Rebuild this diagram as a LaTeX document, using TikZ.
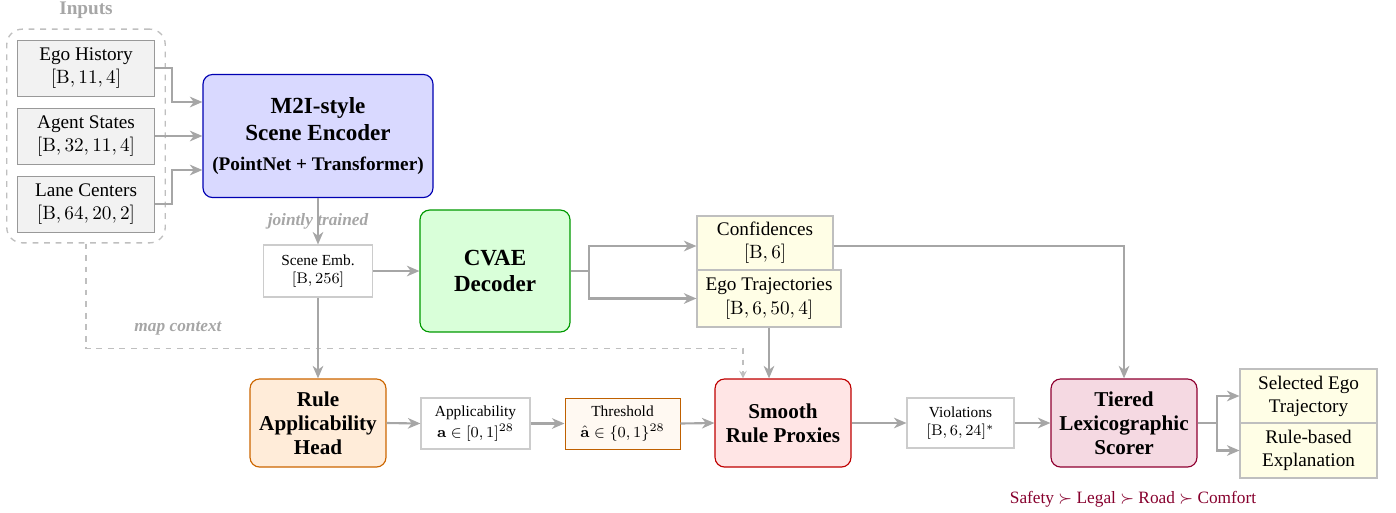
\documentclass[tikz,border=0pt]{standalone}
\usepackage{amsmath,amssymb}
\usepackage[no-math]{fontspec}
\setmainfont{Liberation Serif}
\usepackage{xcolor}
\usepackage{tikz}
\usetikzlibrary{arrows.meta,positioning,calc,fit,backgrounds}

\begin{document}
\begin{tikzpicture}[
    x=0.52pt, y=-0.52pt,
    inbox/.style={draw=black!40, fill=black!5, minimum width=71pt, minimum height=29pt, align=center, inner sep=1pt},
    frame/.style={draw=black!25, dashed, rounded corners=8pt, inner sep=5.5pt, line width=0.7pt},
    block/.style={rounded corners=5pt, align=center, font=\fontsize{11}{12.5}\selectfont\bfseries, line width=0.6pt, inner sep=1pt},
    datbox/.style={draw=black!20, fill=white, align=center, font=\footnotesize, inner sep=1pt, minimum height=26.5pt, line width=0.6pt},
    outbox/.style={draw=black!25, fill=yellow!10, align=center, inner sep=1pt, line width=0.6pt},
    tag/.style={text=black!35, font=\small\bfseries\itshape},
    arrow/.style={-{Stealth[length=6.5pt, width=5.5pt, inset=2pt]}, line width=1.1pt, draw=black!35},
    link/.style={line width=1.1pt, draw=black!35},
    maparrow/.style={-{Stealth[length=4pt, width=4pt, inset=1.5pt]}, dashed, line width=0.8pt, draw=black!25}
]
    \useasboundingbox (0,0) rectangle (1396,512);

    % Inputs
    \node[inbox] (ego) at (86, 68) {Ego History\\$[\mathrm{B}, 11, 4]$};
    \node[inbox] (agent) at (86, 136) {Agent States\\$[\mathrm{B}, 32, 11, 4]$};
    \node[inbox] (lane) at (86, 204) {Lane Centers\\$[\mathrm{B}, 64, 20, 2]$};
    \begin{scope}[on background layer]
        \node[frame, fit=(ego)(agent)(lane)] (inputs) {};
    \end{scope}
    \node[font=\bfseries, text=black!35] (inlabel) at (86, 10) {Inputs};

    % Encoder
    \node[block, draw=blue!70!black, fill=blue!15, minimum width=119.6pt, minimum height=64pt, font=\large\bfseries] (enc) at (318, 136)
        {M2I-style\\Scene Encoder\\[2pt]{\normalsize (PointNet + Transformer)}};

    % Embedding and decoder
    \node[datbox, minimum width=56.7pt, minimum height=27pt] (emb) at (318, 271) {Scene Emb.\\$[\mathrm{B}, 256]$};
    \node[block, draw=green!60!black, fill=green!15, minimum width=78pt, minimum height=63.4pt, font=\large\bfseries] (cvae) at (495, 271) {CVAE\\Decoder};

    % Decoder outputs
    \node[outbox, minimum width=70.7pt, minimum height=28.1pt] (conf) at (765, 243) {Confidences\\$[\mathrm{B}, 6]$};
    \node[outbox, minimum width=74.9pt, minimum height=29.6pt] (traj) at (769, 298.5) {Ego Trajectories\\$[\mathrm{B}, 6, 50, 4]$};

    % Bottom row
    \node[block, draw=orange!80!black, fill=orange!15, minimum width=70.7pt, minimum height=45.8pt] (head) at (318, 423) {Rule\\Applicability\\Head};
    \node[datbox, minimum width=56.7pt] (appl) at (475.5, 423.5) {Applicability\\[1pt]$\mathbf{a} \in [0,1]^{28}$};
    \node[datbox, draw=orange!75!black, fill=orange!5, line width=0.5pt, minimum width=59.8pt] (thr) at (622.5, 423.5) {Threshold\\[1pt]$\hat{\mathbf{a}} \in \{0,1\}^{28}$};
    \node[block, draw=red!75!black, fill=red!10, minimum width=70.7pt, minimum height=45.8pt] (smooth) at (783, 423) {Smooth\\Rule Proxies};
    \node[datbox, minimum width=55.6pt, minimum height=26pt] (viol) at (960.5, 423) {Violations\\$[\mathrm{B}, 6, 24]^{*}$};
    \node[block, draw=purple!75!black, fill=purple!15, minimum width=75.9pt, minimum height=45.8pt] (tiered) at (1124, 423) {Tiered\\Lexicographic\\Scorer};
    \node[font=\small, text=purple!70!black] (order) at (1133, 499) {Safety $\succ$ Legal $\succ$ Road $\succ$ Comfort};

    % Final outputs
    \node[outbox, minimum width=71.2pt, minimum height=28.1pt] (sel) at (1308.5, 396) {Selected Ego\\Trajectory};
    \node[outbox, minimum width=71.2pt, minimum height=28.6pt] (expl) at (1308.5, 450.5) {Rule-based\\Explanation};

    % Edges
    \draw[arrow] (ego.east) -- ++(17,0) |- ($(enc.west)+(0,-34)$);
    \draw[arrow] (agent.east) -- (enc.west);
    \draw[arrow] (lane.east) -- ++(17,0) |- ($(enc.west)+(0,34)$);
    \draw[arrow] (enc.south) -- node[tag] {jointly trained} (emb.north);
    \draw[arrow] (emb.east) -- (cvae.west);
    \draw[link] (cvae.east) -- ++(18,0) coordinate (split);
    \draw[arrow] (split) |- ($(conf.west)+(0,3)$);
    \draw[arrow] (split) |- (traj.west);
    \draw[arrow] ($(conf.east)+(0,3)$) -| (tiered.north);
    \draw[arrow] (traj.south) -- (traj.south |- smooth.north);
    \draw[maparrow] (inputs.south) -- ++(0,105) -| node[tag, above, pos=0.07, yshift=3pt] {map context} ($(smooth.north)+(-40,0)$);
    \draw[arrow] (emb.south) -- (head.north);
    \draw[arrow] (head.east) -- (appl.west);
    \draw[arrow] (appl.east) -- (thr.west);
    \draw[arrow] (thr.east) -- (smooth.west);
    \draw[arrow] (smooth.east) -- (viol.west);
    \draw[arrow] (viol.east) -- (tiered.west);
    \draw[link] (tiered.east) -- ++(19,0) coordinate (fork);
    \draw[arrow] (fork) |- (sel.west);
    \draw[arrow] (fork) |- (expl.west);

\end{tikzpicture}
\end{document}
